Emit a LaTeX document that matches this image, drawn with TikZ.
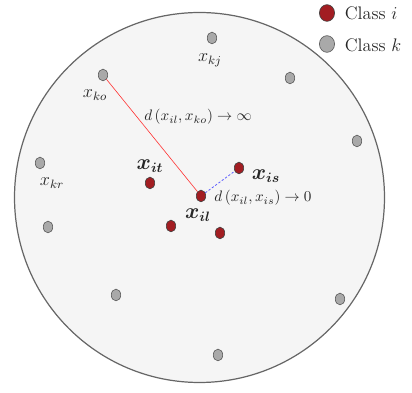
\documentclass[tikz,border=0pt]{standalone}
\usepackage{amsmath,amssymb}
\usepackage{tikz}
\usetikzlibrary{shapes.geometric}
\definecolor{clsired}{HTML}{A21D22}
\definecolor{clskgray}{HTML}{A9A9A9}

\begin{document}
\begin{tikzpicture}[
  x=0.66pt, y=-0.66pt,
  pti/.style={ellipse, draw=black!75, fill=clsired, inner sep=0pt,
              minimum width=6.2pt, minimum height=7.8pt},
  ptk/.style={ellipse, draw=black!65, fill=clskgray, inner sep=0pt,
              minimum width=6.2pt, minimum height=7.8pt},
  legi/.style={pti, minimum width=10pt, minimum height=11pt},
  legk/.style={ptk, minimum width=10pt, minimum height=11pt},
  lbl/.style={inner sep=1pt, font=\large, text=black!85},
  blbl/.style={inner sep=1pt, font=\fontsize{13.5}{16}\selectfont, text=black!85},
  dlbl/.style={inner sep=1pt, font=\normalsize, text=black!85},
  far/.style={red!80, line width=0.4pt},
  near/.style={blue!65, dashed, dash pattern=on 1.5pt off 1.2pt, line width=0.5pt}
]
\useasboundingbox (0,0) rectangle (412,393);

% the neighbourhood
\draw[draw=black!60, fill=black!4, line width=0.8pt] (199.5,197.5) circle [radius=122.1pt];

% class k points
\node[ptk] (kj) at (212,38)  {};
\node[ptk] (ko) at (103,75)  {};
\node[ptk] (k3) at (290,78)  {};
\node[ptk] (k4) at (357,141) {};
\node[ptk] (kr) at (40,163)  {};
\node[ptk] (k6) at (48,227)  {};
\node[ptk] (k7) at (116,295) {};
\node[ptk] (k8) at (340,299) {};
\node[ptk] (k9) at (218,355) {};

% class i points
\node[pti] (it) at (150,183) {};
\node[pti] (is) at (239,168) {};
\node[pti] (il) at (201,196) {};
\node[pti] (i4) at (171,226) {};
\node[pti] (i5) at (220,233) {};

% distances
\draw[far]  (ko) -- (il);
\draw[near] (il) -- (is);

% labels
\node[lbl]  (kjl) at (210,60)  {$x_{kj}$};
\node[lbl]  (kol) at (95,95)   {$x_{ko}$};
\node[lbl]  (krl) at (52,183)  {$x_{kr}$};
\node[blbl] (itl) at (150,166) {$\boldsymbol{x_{it}}$};
\node[blbl] (isl) at (266,176) {$\boldsymbol{x_{is}}$};
\node[blbl] (ill) at (198,215) {$\boldsymbol{x_{il}}$};
\node[dlbl] (dfar)  at (198,117) {$d\left(x_{il},x_{ko}\right)\to\infty$};
\node[dlbl] (dnear) at (263,198) {$d\left(x_{il},x_{is}\right)\to 0$};

% legend
\node[legi] (legdoti) at (327,13) {};
\node[legk] (legdotk) at (327,44) {};
\node[lbl, anchor=west] (legi) at (343,13) {Class $i$};
\node[lbl, anchor=west] (legk) at (343,45) {Class $k$};
\end{tikzpicture}
\end{document}
